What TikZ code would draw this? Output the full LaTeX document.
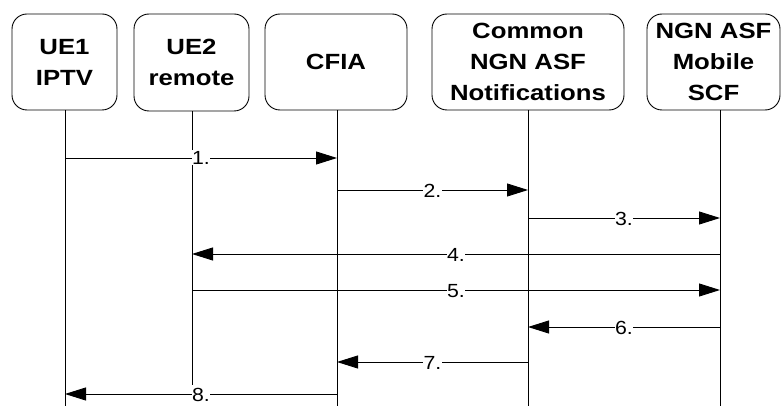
\documentclass[tikz,border=0pt]{standalone}
\usepackage{fontspec}
\newfontfamily\boxfont[FakeStretch=1.17]{Liberation Sans Bold}
\newfontfamily\numfont[FakeStretch=1.12]{Liberation Sans}
\usetikzlibrary{arrows.meta}
\begin{document}
\begin{tikzpicture}[x=1pt,y=-1pt,
  ent/.style={draw, line width=0.9pt, rounded corners=15pt, align=center,
    inner sep=0pt, font=\boxfont\fontsize{22}{31}\selectfont},
  life/.style={line width=0.9pt},
  msg/.style={line width=0.9pt, -{Triangle[length=21pt,width=13pt]}},
  lbl/.style={midway, fill=white, inner sep=0.5pt, text height=14pt, text depth=0pt,
    font=\numfont\fontsize{19}{21}\selectfont}]
\useasboundingbox (0,0) rectangle (781,406);
% entities
\node[ent, minimum width=105pt, minimum height=96pt] (ue1) at (64.5,62) {UE1\\IPTV};
\node[ent, minimum width=115pt, minimum height=97pt] (ue2) at (191.5,62.5) {UE2\\remote};
\node[ent, minimum width=142pt, minimum height=96pt] (cfia) at (336,62) {CFIA};
\node[ent, minimum width=192pt, minimum height=96pt] (cn) at (528,62) {Common\\NGN ASF\\Notifications};
\node[ent, minimum width=133pt, minimum height=96pt] (ngn) at (713.5,62) {NGN ASF\\Mobile\\SCF};
% lifelines
\coordinate (L1) at (65,406);
\coordinate (L2) at (192,385);
\coordinate (L3) at (337,406);
\coordinate (L4) at (528,406);
\coordinate (L5) at (720,406);
\draw[life] (ue1.south -| L1) -- (L1);
\draw[life] (ue2.south -| L2) -- (L2);
\draw[life] (cfia.south -| L3) -- (L3);
\draw[life] (cn.south -| L4) -- (L4);
\draw[life] (ngn.south -| L5) -- (L5);
% messages
\draw[msg] (L1 |- 0,158) -- node[lbl] {1.} (L3 |- 0,158);
\draw[msg] (L3 |- 0,190) -- node[lbl] {2.} (L4 |- 0,190);
\draw[msg] (L4 |- 0,218) -- node[lbl] {3.} (L5 |- 0,218);
\draw[msg] (L5 |- 0,254) -- node[lbl] {4.} (L2 |- 0,254);
\draw[msg] (L2 |- 0,290) -- node[lbl] {5.} (L5 |- 0,290);
\draw[msg] (L5 |- 0,327) -- node[lbl] {6.} (L4 |- 0,327);
\draw[msg] (L4 |- 0,362) -- node[lbl] {7.} (L3 |- 0,362);
\draw[msg] (L3 |- 0,394) -- node[lbl] {8.} (L1 |- 0,394);
\end{tikzpicture}
\end{document}
